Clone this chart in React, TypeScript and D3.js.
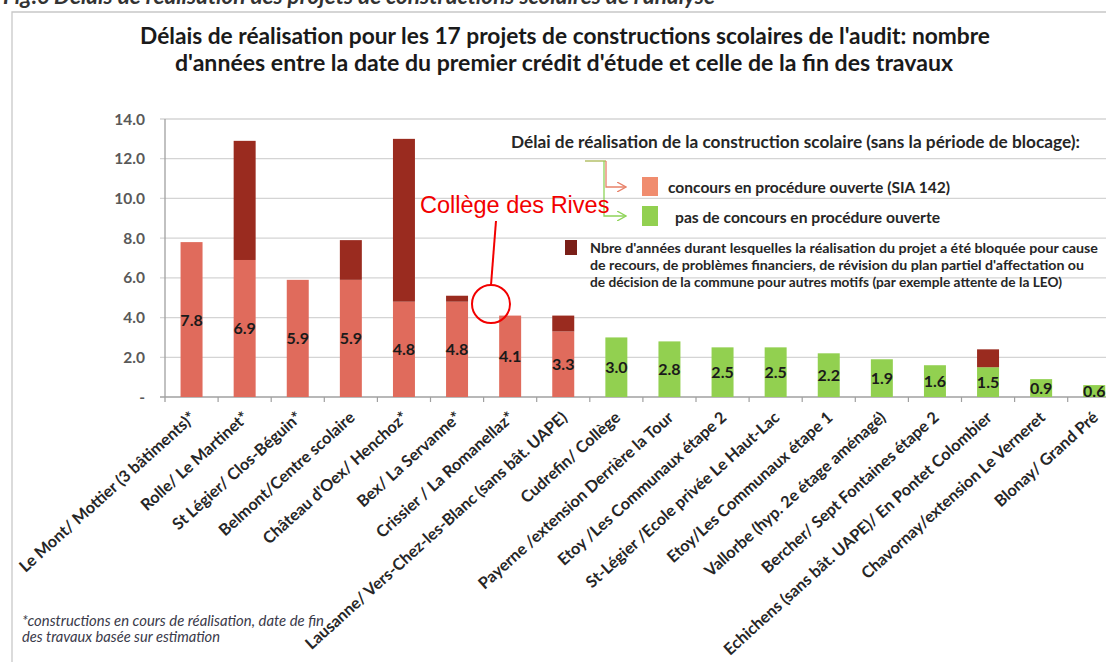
import React from "react";
import * as d3 from "d3";

const categories = [
  "Le Mont/  Mottier (3 bâtiments)*",
  "Rolle/ Le Martinet*",
  "St Légier/ Clos-Béguin*",
  "Belmont/Centre scolaire",
  "Château d'Oex/ Henchoz*",
  "Bex/ La Servanne*",
  "Crissier / La Romanellaz*",
  "Lausanne/ Vers-Chez-les-Blanc (sans bât. UAPE)",
  "Cudrefin/ Collège",
  "Payerne /extension Derrière la Tour",
  "Etoy /Les Communaux étape 2",
  "St-Légier /Ecole privée Le Haut-Lac",
  "Etoy/Les Communaux étape 1",
  "Vallorbe (hyp. 2e étage aménagé)",
  "Bercher/ Sept Fontaines étape 2",
  "Echichens (sans bât. UAPE)/ En Pontet Colombier",
  "Chavornay/extension Le Verneret",
  "Blonay/ Grand Pré",
];
const realisationYears = [7.8, 6.9, 5.9, 5.9, 4.8, 4.8, 4.1, 3.3, 3.0, 2.8, 2.5, 2.5, 2.2, 1.9, 1.6, 1.5, 0.9, 0.6];
const blockedYears = [0, 6.0, 0, 2.0, 8.2, 0.3, 0, 0.8, 0, 0, 0, 0, 0, 0, 0, 0.9, 0, 0];
const openCompetition = [true, true, true, true, true, true, true, true, false, false, false, false, false, false, false, false, false, false];
const yTicks = [0, 2, 4, 6, 8, 10, 12, 14];

const title1 = "Délais de réalisation pour les 17 projets de constructions  scolaires de l'audit: nombre";
const title2 = "d'années entre la date du premier crédit d'étude et celle de la fin des travaux";
const legendTitle = "Délai de réalisation de la construction scolaire (sans la période de blocage):";
const legendOpen = "concours en procédure ouverte (SIA 142)";
const legendNone = "pas de concours en procédure ouverte";
const legendBlocked = [
  "Nbre d'années durant  lesquelles la réalisation du projet a été bloquée pour cause",
  "de recours, de problèmes financiers,  de révision du plan  partiel d'affectation  ou",
  "de décision  de la commune  pour autres motifs (par exemple attente de la LEO)",
];
const footnote = ["*constructions en cours de réalisation,  date de fin", "des travaux basée sur estimation"];
const caption = "Fig.6 Délais de réalisation des projets de constructions scolaires de l'analyse";
const annotation = "Collège des Rives";

const SALMON = "#e06b5c";
const GREEN = "#92d050";
const DARK = "#9a2b1f";
const FONT = "Lato, 'Open Sans', sans-serif";

export default function App() {
  const W = 1106, H = 662;
  const x = d3.scaleBand<string>().domain(categories).range([165, 165 + 18 * 53.1]).paddingInner(0.586).paddingOuter(0.293);
  const y = d3.scaleLinear().domain([0, 14]).range([397, 119]);
  const step = x.step();
  const x0 = 165;
  const blockedLen = [508, 494, 472];
  const footLen = [302, 198];

  return (
    <svg width={W} height={H} style={{ position: "absolute", left: 0, top: 0, background: "#fff" }}>
      <defs>
        <marker id="arrS" viewBox="0 0 10 10" refX="9" refY="5" markerWidth="8" markerHeight="8" orient="auto">
          <path d="M0,0 L9,5 L0,10" fill="none" stroke="#e8826a" strokeWidth="1.3" />
        </marker>
        <marker id="arrG" viewBox="0 0 10 10" refX="9" refY="5" markerWidth="8" markerHeight="8" orient="auto">
          <path d="M0,0 L9,5 L0,10" fill="none" stroke="#8fd45a" strokeWidth="1.3" />
        </marker>
      </defs>
      <rect x={0} y={0} width={W} height={H} fill="#fff" />
      <text x={3} y={4} fontFamily={FONT} fontSize={22} fontWeight="bold" fontStyle="italic" fill="#333" textLength={712} lengthAdjust="spacingAndGlyphs">{caption}</text>
      <path d={`M12,${H + 2} L12,12 L${W + 2},12`} fill="none" stroke="#c8c8c8" strokeWidth={1.3} />

      <text x={565} y={44} textAnchor="middle" fontFamily={FONT} fontSize={22.5} fontWeight="bold" fill="#1a1a1a" textLength={850} lengthAdjust="spacingAndGlyphs">{title1}</text>
      <text x={564} y={71} textAnchor="middle" fontFamily={FONT} fontSize={22.5} fontWeight="bold" fill="#1a1a1a" textLength={778} lengthAdjust="spacingAndGlyphs">{title2}</text>

      {/* gridlines and y axis */}
      {yTicks.map((t) => (
        <g key={t}>
          <line x1={160} x2={W} y1={y(t)} y2={y(t)} stroke={t === 0 ? "#a0a0a0" : "#d4d4d4"} strokeWidth={t === 0 ? 1.5 : 1.3} />
          <text x={145} y={y(t) + 5.5} textAnchor="end" fontFamily={FONT} fontSize={15.5} fontWeight="bold" fill="#595959">
            {t === 0 ? "-" : t.toFixed(1)}
          </text>
        </g>
      ))}
      <line x1={165} x2={165} y1={y(14)} y2={y(0) + 5} stroke="#a0a0a0" strokeWidth={1.3} />
      {categories.map((c, i) => (
        <line key={"tk" + i} x1={x0 + (i + 1) * step} x2={x0 + (i + 1) * step} y1={y(0)} y2={y(0) + 5} stroke="#a0a0a0" strokeWidth={1.2} />
      ))}

      {/* bars */}
      {categories.map((c, i) => {
        const bx = x(c)!;
        const bw = x.bandwidth();
        const base = realisationYears[i];
        const blk = blockedYears[i];
        return (
          <g key={"b" + i}>
            <rect x={bx} width={bw} y={y(base)} height={y(0) - y(base)} fill={openCompetition[i] ? SALMON : GREEN} />
            {blk > 0 && <rect x={bx} width={bw} y={y(base + blk)} height={y(base) - y(base + blk)} fill={DARK} />}
            <text x={bx + bw / 2} y={y(base / 2) + 6} textAnchor="middle" fontFamily={FONT} fontSize={16} fontWeight="bold" fill="#1a1a1a">
              {base.toFixed(1)}
            </text>
          </g>
        );
      })}

      {/* x labels */}
      {categories.map((c, i) => {
        const cx = x(c)! + x.bandwidth() / 2 + 5;
        const cy = y(0) + 22;
        return (
          <text key={"xl" + i} transform={`translate(${cx},${cy}) rotate(-42)`} textAnchor="end" fontFamily={FONT} fontSize={16.2} fontWeight="bold" fill="#262626">
            {c}
          </text>
        );
      })}

      {/* legend */}
      <text x={511} y={148} fontFamily={FONT} fontSize={17} fontWeight="bold" fill="#262626" textLength={569} lengthAdjust="spacingAndGlyphs">{legendTitle}</text>
      <path d="M585,161 L606,161" fill="none" stroke="#b5c06a" strokeWidth={1.5} />
      <path d="M606,161 L606,187 L626,187" fill="none" stroke="#e8826a" strokeWidth={1.3} markerEnd="url(#arrS)" />
      <path d="M604,161 L604,216 L626,216" fill="none" stroke="#8fd45a" strokeWidth={1.3} markerEnd="url(#arrG)" />
      <rect x={642} y={177} width={16} height={19} fill="#f08c6e" />
      <text x={668} y={192.5} fontFamily={FONT} fontSize={15.5} fontWeight="bold" fill="#262626" textLength={282} lengthAdjust="spacingAndGlyphs">{legendOpen}</text>
      <rect x={642} y={206} width={16} height={20} fill={GREEN} />
      <text x={675} y={222.5} fontFamily={FONT} fontSize={15.5} fontWeight="bold" fill="#262626" textLength={265} lengthAdjust="spacingAndGlyphs">{legendNone}</text>
      <rect x={565} y={240} width={12} height={15} fill="#7a1f18" />
      {legendBlocked.map((l, i) => (
        <text key={"lb" + i} x={590} y={253 + i * 17} fontFamily={FONT} fontSize={13.8} fontWeight="bold" fill="#262626" textLength={blockedLen[i]} lengthAdjust="spacingAndGlyphs">{l}</text>
      ))}

      {/* annotation */}
      <text x={420} y={213} fontFamily="'Liberation Sans', Arial, sans-serif" fontSize={23.5} fill="#f20000">{annotation}</text>
      <line x1={496} y1={221} x2={491} y2={285} stroke="#f20000" strokeWidth={2} />
      <circle cx={491} cy={304} r={19} fill="none" stroke="#f20000" strokeWidth={2} />

      {/* footnote */}
      {footnote.map((f, i) => (
        <text key={"fn" + i} x={22} y={626 + i * 16} fontFamily={FONT} fontSize={14.5} fontStyle="italic" fill="#3a3a4a" textLength={footLen[i]} lengthAdjust="spacingAndGlyphs">{f}</text>
      ))}
    </svg>
  );
}
